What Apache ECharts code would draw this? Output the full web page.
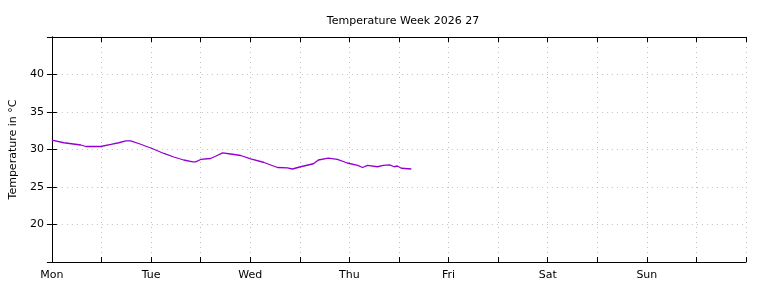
<!DOCTYPE html>
<html>
<head>
<meta charset="utf-8">
<script src="https://cdn.jsdelivr.net/npm/echarts@6/dist/echarts.min.js"></script>
<style>html,body{margin:0;padding:0;background:#fff}#c{width:768px;height:288px}</style>
</head>
<body>
<div id="c"></div>
<script>
// hours since Monday 00:00
var hours = [0, 2.9, 7.0, 8.2, 11.8, 14.3, 16.2, 17.9, 19.1, 21.5, 24.4, 27.1, 29.5, 31.9, 34.1, 34.8, 36.0, 38.4, 39.6, 41.3, 43.3, 45.7, 48.1, 51.2, 54.6, 57.0, 58.2, 60.2, 63.3, 64.5, 66.9, 69.1, 71.5, 74.0, 75.2, 76.4, 78.8, 80.2, 81.7, 82.9, 83.6, 84.6, 87.0];
var temps = [31.25, 30.9, 30.6, 30.4, 30.4, 30.67, 30.9, 31.15, 31.15, 30.7, 30.1, 29.47, 29.0, 28.6, 28.35, 28.35, 28.67, 28.8, 29.1, 29.55, 29.4, 29.2, 28.75, 28.3, 27.6, 27.55, 27.4, 27.7, 28.1, 28.6, 28.85, 28.67, 28.2, 27.87, 27.6, 27.87, 27.7, 27.87, 27.95, 27.7, 27.8, 27.5, 27.4];
var dayLabels = ['Mon', 'Tue', 'Wed', 'Thu', 'Fri', 'Sat', 'Sun'];
var yTickLabels = [20, 25, 30, 35, 40];

var font = 'DejaVu Sans';
var data = hours.map(function (h, i) { return [h, temps[i]]; });
var axisLineStyle = { show: true, lineStyle: { color: '#000', width: 1 } };
var tick = { show: true, inside: true, length: 5, lineStyle: { color: '#000', width: 1 } };
var grid = { show: true, lineStyle: { color: '#c0c0c0', width: 1, type: [1, 4] } };

var chart = echarts.init(document.getElementById('c'));
chart.setOption({
  animation: false,
  backgroundColor: '#fff',
  title: {
    text: 'Temperature Week 2026 27',
    left: 398, top: 11, textAlign: 'center',
    textStyle: { fontFamily: font, fontSize: 11, fontWeight: 'normal', color: '#000' }
  },
  grid: { left: 51, right: 22, top: 37, bottom: 26 },
  xAxis: [{
    type: 'value', position: 'bottom', min: 0, max: 168, interval: 12,
    axisLine: axisLineStyle, axisTick: tick, splitLine: grid,
    axisLabel: {
      fontFamily: font, fontSize: 11, color: '#000', margin: 8,
      formatter: function (v) { return (v % 24 === 0 && v < 168) ? dayLabels[v / 24] : ''; }
    }
  }, {
    type: 'value', position: 'top', min: 0, max: 168, interval: 12,
    axisLine: axisLineStyle, axisTick: tick, splitLine: { show: false }, axisLabel: { show: false }
  }],
  yAxis: [{
    type: 'value', position: 'left', min: 15, max: 45, interval: 5,
    axisLine: axisLineStyle, axisTick: tick, splitLine: grid,
    name: 'Temperature in °C', nameLocation: 'middle', nameGap: 31, nameRotate: 90,
    nameTextStyle: { fontFamily: font, fontSize: 11, color: '#000' },
    axisLabel: {
      fontFamily: font, fontSize: 11, color: '#000', margin: 8,
      formatter: function (v) { return yTickLabels.indexOf(v) >= 0 ? String(v) : ''; }
    }
  }, {
    type: 'value', position: 'right', min: 15, max: 45, interval: 5,
    axisLine: axisLineStyle, axisTick: tick, splitLine: { show: false }, axisLabel: { show: false }
  }],
  series: [{
    type: 'line', data: data, xAxisIndex: 0, yAxisIndex: 0,
    showSymbol: false, symbol: 'none',
    lineStyle: { color: '#9400d3', width: 1.3 }
  }]
});
</script>
</body>
</html>
